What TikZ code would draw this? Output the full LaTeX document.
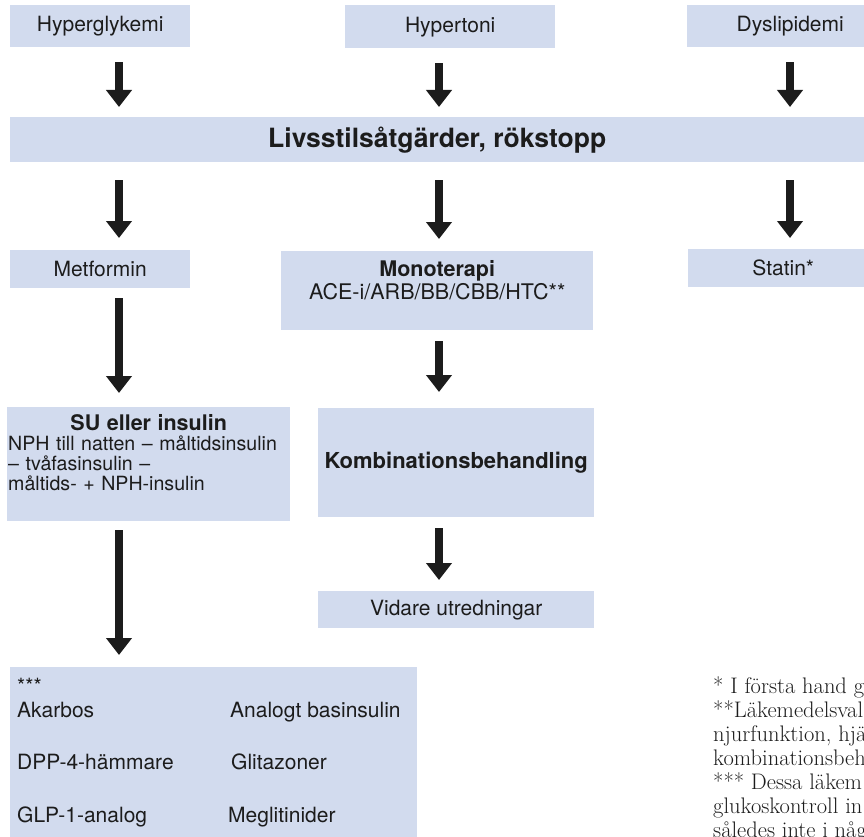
\documentclass[tikz,border=0pt]{standalone}
\usepackage{fontspec}
\setsansfont{TeX Gyre Heros}
\usetikzlibrary{positioning,arrows.meta}
\definecolor{boxblue}{RGB}{210,219,238}
\definecolor{ink}{RGB}{28,28,28}

\begin{document}
\begin{tikzpicture}[x=1pt, y=-1pt,
  box/.style={fill=boxblue, anchor=north west, inner sep=0pt, text=ink,
    font=\sffamily\fontsize{21}{22}\selectfont},
  txt/.style={inner sep=0pt, text=ink, font=\sffamily\fontsize{21}{22}\selectfont},
  note/.style={inner sep=0pt, text=ink, anchor=base west,
    font=\rmfamily\fontsize{22.5}{24}\selectfont},
  arr/.style={draw=ink, line width=8pt, -{Triangle[width=25pt,length=17pt]}}]
\useasboundingbox (0,0) rectangle (864,837);
\clip (0,0) rectangle (864,837);

\coordinate (colA) at (119,0);
\coordinate (colB) at (439,0);
\coordinate (colC) at (790,0);

% problems
\node[box, minimum width=180pt, minimum height=42pt] (hyper) at (10,5) {Hyperglykemi};
\node[box, minimum width=210pt, minimum height=43pt] (hypert) at (345,5) {Hypertoni};
\node[box, minimum width=206pt, minimum height=42pt] (dys) at (687,5) {Dyslipidemi};

\node[box, minimum width=854pt, minimum height=45pt,
  font=\sffamily\bfseries\fontsize{26.5}{28}\selectfont] (bar) at (10,117) {Livsstilsåtgärder, rökstopp};

% first line treatment
\node[box, minimum width=180pt, minimum height=38pt] (met) at (10,250) {Metformin};
\node[box, minimum width=312pt, minimum height=79pt] (mono) at (281,251) {};
\node[txt, align=center, font=\sffamily\fontsize{21.5}{23.5}\selectfont,
  below=9pt of mono.north] (monotxt) {\textbf{Monoterapi}\\ACE-i/ARB/BB/CBB/HTC**};
\node[box, minimum width=190pt, minimum height=38pt] (statin) at (688,249) {Statin*};

% next steps
\node[box, minimum width=283pt, minimum height=114pt] (su) at (7,407) {};
\node[txt, text width=281pt, align=left, font=\sffamily\fontsize{19.6}{20}\selectfont,
  below=7pt of su.north] (sutxt)
  {\makebox[281pt]{\bfseries\fontsize{21.5}{20}\selectfont SU eller insulin}\\
   NPH till natten – måltidsinsulin\\
   – tvåfasinsulin –\\
   måltids- + NPH-insulin};
\node[box, minimum width=276pt, minimum height=109pt,
  font=\sffamily\bfseries\fontsize{22}{24}\selectfont] (komb) at (318,408) {Kombinationsbehandling};
\node[box, minimum width=276pt, minimum height=37pt] (vidare) at (318,591) {Vidare utredningar};

% other drugs
\node[box, minimum width=407pt, minimum height=200pt] (drugs) at (10,667) {};
\node[txt, anchor=base west] (stars) at (17,693) {***};
\node[txt, anchor=base west] (akarbos) at (17,717) {Akarbos};
\node[txt, anchor=base west] (analogt) at (230,717) {Analogt basinsulin};
\node[txt, anchor=base west] (dpp) at (17,769) {DPP-4-hämmare};
\node[txt, anchor=base west] (glita) at (231,769) {Glitazoner};
\node[txt, anchor=base west] (glp) at (17,822) {GLP-1-analog};
\node[txt, anchor=base west] (megli) at (228,822) {Meglitinider};

% footnotes
\foreach \line [count=\i from 0] in {{* I första hand g}, {**Läkemedelsval},
    {njurfunktion, hjä}, {kombinationsbeh}, {*** Dessa läkem},
    {glukoskontroll in}, {således inte i någ}}
  \node[note] (note\i) at (713,693+24*\i) {\line};

\draw[arr, shorten <=15pt, shorten >=10pt] (hyper.south -| colA) -- (bar.north -| colA);
\draw[arr, shorten <=15pt, shorten >=10pt] (hypert.south -| colB) -- (bar.north -| colB);
\draw[arr, shorten <=15pt, shorten >=10pt] (dys.south -| colC) -- (bar.north -| colC);
\draw[arr, shorten <=18pt, shorten >=12pt] (bar.south -| colA) -- (met.north -| colA);
\draw[arr, shorten <=18pt, shorten >=12pt] (bar.south -| colB) -- (mono.north -| colB);
\draw[arr, shorten <=18pt, shorten >=11pt] (bar.south -| colC) -- (statin.north -| colC);
\draw[arr, shorten <=10pt, shorten >=14pt] (met.south -| colA) -- (su.north -| colA);
\draw[arr, shorten <=11pt, shorten >=16pt] (mono.south -| colB) -- (komb.north -| colB);
\draw[arr, shorten <=9pt, shorten >=12pt] (su.south -| colA) -- (drugs.north -| colA);
\draw[arr, shorten <=11pt, shorten >=11pt] (komb.south -| colB) -- (vidare.north -| colB);
\end{tikzpicture}
\end{document}
